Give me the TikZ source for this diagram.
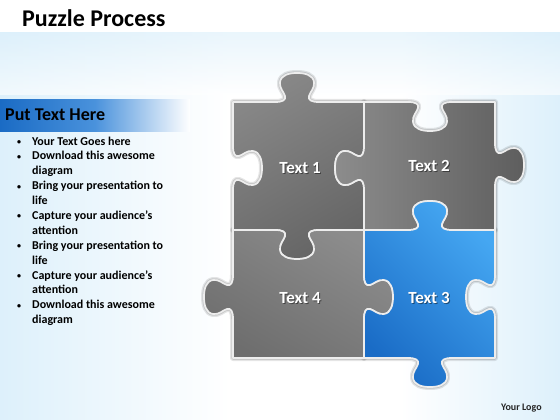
\documentclass[tikz,border=0pt]{standalone}
\usepackage{fontspec}
\setmainfont{Carlito}
\definecolor{bgblue}{HTML}{DDF0FB}
\definecolor{barA}{HTML}{1A6BC4}
\definecolor{barB}{HTML}{4A92DC}
\definecolor{gL}{HTML}{8C8C8C}
\definecolor{gM}{HTML}{7A7A7A}
\definecolor{gD}{HTML}{5E5E5E}
\definecolor{bL}{HTML}{45A7F2}
\definecolor{bD}{HTML}{1A6CC6}
\definecolor{edge}{HTML}{EDEDED}
% knob on a horizontal edge: centre (#1,#2), run direction #3 (+-1 in x), bump direction #4 (+-1 in y)
\newcommand\hknob[4]{-- ({#1+(#3)*(-22)},{#2}) .. controls ({#1+(#3)*(-14)},{#2}) and ({#1+(#3)*(-11)},{#2+(#4)*2}) .. ({#1+(#3)*(-12)},{#2+(#4)*6}) .. controls ({#1+(#3)*(-13)},{#2+(#4)*10}) and ({#1+(#3)*(-18)},{#2+(#4)*14}) .. ({#1+(#3)*(-17)},{#2+(#4)*20}) .. controls ({#1+(#3)*(-16)},{#2+(#4)*27}) and ({#1+(#3)*(-8)},{#2+(#4)*29}) .. ({#1},{#2+(#4)*29}) .. controls ({#1+(#3)*8},{#2+(#4)*29}) and ({#1+(#3)*16},{#2+(#4)*27}) .. ({#1+(#3)*17},{#2+(#4)*20}) .. controls ({#1+(#3)*18},{#2+(#4)*14}) and ({#1+(#3)*13},{#2+(#4)*10}) .. ({#1+(#3)*12},{#2+(#4)*6}) .. controls ({#1+(#3)*11},{#2+(#4)*2}) and ({#1+(#3)*14},{#2}) .. ({#1+(#3)*22},{#2})}
% knob on a vertical edge: centre (#1,#2), run direction #3 (+-1 in y), bump direction #4 (+-1 in x)
\newcommand\vknob[4]{-- ({#1},{#2+(#3)*(-22)}) .. controls ({#1},{#2+(#3)*(-14)}) and ({#1+(#4)*2},{#2+(#3)*(-11)}) .. ({#1+(#4)*6},{#2+(#3)*(-12)}) .. controls ({#1+(#4)*10},{#2+(#3)*(-13)}) and ({#1+(#4)*14},{#2+(#3)*(-18)}) .. ({#1+(#4)*20},{#2+(#3)*(-17)}) .. controls ({#1+(#4)*27},{#2+(#3)*(-16)}) and ({#1+(#4)*29},{#2+(#3)*(-8)}) .. ({#1+(#4)*29},{#2}) .. controls ({#1+(#4)*29},{#2+(#3)*8}) and ({#1+(#4)*27},{#2+(#3)*16}) .. ({#1+(#4)*20},{#2+(#3)*17}) .. controls ({#1+(#4)*14},{#2+(#3)*18}) and ({#1+(#4)*10},{#2+(#3)*13}) .. ({#1+(#4)*6},{#2+(#3)*12}) .. controls ({#1+(#4)*2},{#2+(#3)*11}) and ({#1},{#2+(#3)*14}) .. ({#1},{#2+(#3)*22})}
\newcommand\pieceA{(233,102) \hknob{297}{102}{1}{-1} -- (364,102) \vknob{364}{168}{1}{-1} -- (364,230) \hknob{297}{230}{-1}{1} -- (233,230) \vknob{233}{168}{-1}{1} -- cycle}
\newcommand\pieceB{(364,102) \hknob{430}{102}{1}{1} -- (495,102) \vknob{495}{165}{1}{1} -- (495,230) \hknob{430}{230}{-1}{-1} -- (364,230) \vknob{364}{168}{-1}{-1} -- cycle}
\newcommand\pieceC{(364,230) \hknob{430}{230}{1}{-1} -- (495,230) \vknob{495}{297}{1}{-1} -- (495,358) \hknob{430}{358}{-1}{1} -- (364,358) \vknob{364}{297}{-1}{1} -- cycle}
\newcommand\pieceD{(233,230) \hknob{297}{230}{1}{1} -- (364,230) \vknob{364}{297}{1}{1} -- (364,358) -- (233,358) \vknob{233}{297}{-1}{-1} -- cycle}
\begin{document}
\begin{tikzpicture}[x=1pt,y=-1pt,
  halo/.style={draw=black,draw opacity=0.10,line width=6pt,line join=round},
  halob/.style={draw=black,draw opacity=0.12,line width=3.5pt,line join=round},
  piece/.style={draw=edge,line width=1.7pt,line join=round},
  ptext/.style={font=\fontsize{17}{20}\selectfont\bfseries,text=white,inner sep=0pt},
  pshadow/.style={font=\fontsize{17}{20}\selectfont\bfseries,text=black,text opacity=0.45,inner sep=0pt}]
\useasboundingbox (0,0) rectangle (560,420);
\fill[white] (0,0) rectangle (560,420);
\shade[left color=bgblue,right color=white] (0,33) rectangle (230,420);
\shade[left color=white,right color=bgblue] (400,33) rectangle (560,420);
\shade[top color=bgblue,bottom color=white,opacity=0.6] (0,33) rectangle (560,95);
% title
\node[anchor=base west,inner sep=0pt,font=\fontsize{24}{28}\selectfont\bfseries] (title) at (22,27) {Puzzle Process};
% side bar
\shade[left color=barA,right color=barB] (0,100) rectangle (95,131);
\shade[left color=barB,right color=white] (95,100) rectangle (190,131);
\node[anchor=base west,inner sep=0pt,font=\fontsize{18}{21}\selectfont\bfseries] (head) at (5,121) {Put Text Here};
\node[anchor=base west,inner sep=0pt,font=\fontsize{12}{14.9}\selectfont\bfseries] (list) at (17,145)
 {\begin{tabular}[t]{@{}p{15pt}@{}l@{}}
 {\fontsize{8}{10}\selectfont\raisebox{0.5pt}{•}} & Your Text Goes here\\
 {\fontsize{8}{10}\selectfont\raisebox{0.5pt}{•}} & Download this awesome\\
   & diagram\\
 {\fontsize{8}{10}\selectfont\raisebox{0.5pt}{•}} & Bring your presentation to\\
   & life\\
 {\fontsize{8}{10}\selectfont\raisebox{0.5pt}{•}} & Capture your audience’s\\
   & attention\\
 {\fontsize{8}{10}\selectfont\raisebox{0.5pt}{•}} & Bring your presentation to\\
   & life\\
 {\fontsize{8}{10}\selectfont\raisebox{0.5pt}{•}} & Capture your audience’s\\
   & attention\\
 {\fontsize{8}{10}\selectfont\raisebox{0.5pt}{•}} & Download this awesome\\
   & diagram
 \end{tabular}};
% puzzle shadows
\draw[halo] \pieceA; \draw[halo] \pieceB; \draw[halo] \pieceC; \draw[halo] \pieceD;
\draw[halob] \pieceA; \draw[halob] \pieceB; \draw[halob] \pieceC; \draw[halob] \pieceD;
% pieces
\draw[piece,top color=gM!90!white,bottom color=gD!95!white,shading angle=30] \pieceA;
\draw[piece,left color=gL,right color=gD] \pieceB;
\draw[piece,top color=gL,bottom color=gD!90!white,shading angle=-30] \pieceD;
\draw[piece,top color=bL,bottom color=bD,shading angle=-45] \pieceC;
% labels
\node[pshadow] (s1) at (301,169) {Text 1};
\node[pshadow] (s2) at (430,167) {Text 2};
\node[pshadow] (s3) at (430,299) {Text 3};
\node[pshadow] (s4) at (301,299) {Text 4};
\node[ptext] (t1) at (300,168) {Text 1};
\node[ptext] (t2) at (429,166) {Text 2};
\node[ptext] (t3) at (429,298) {Text 3};
\node[ptext] (t4) at (300,298) {Text 4};
% logo
\node[anchor=base west,inner sep=0pt,font=\fontsize{10}{12}\selectfont\bfseries,text=black!85] (logo) at (501,410) {Your Logo};
\end{tikzpicture}
\end{document}
